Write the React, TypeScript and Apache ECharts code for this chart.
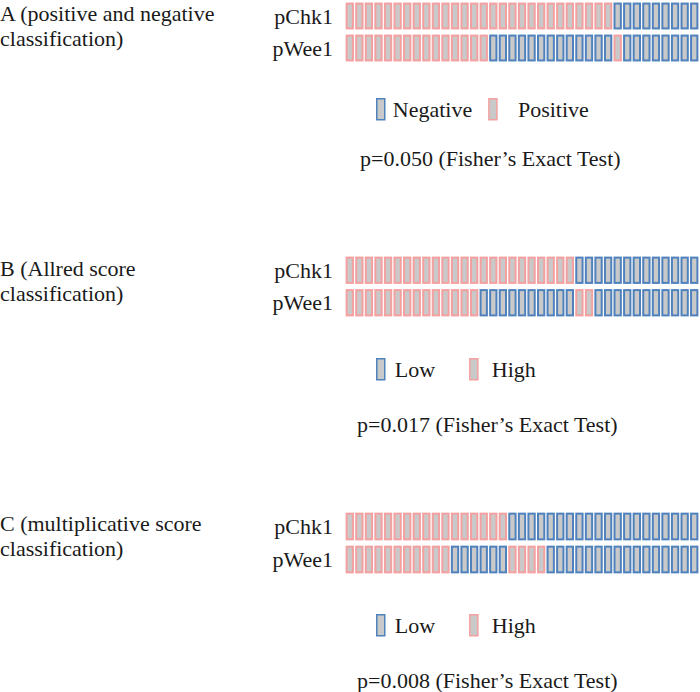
import React, { useEffect, useRef } from 'react';
import * as echarts from 'echarts';

// Sample (case) indices along each bar
const SAMPLES = ['1','2','3','4','5','6','7','8','9','10','11','12','13','14','15','16','17','18','19','20','21','22','23','24','25','26','27','28','29','30','31','32','33','34','35','36','37'];
const ROW_LABELS = ['pChk1', 'pWee1'];

// 1 = positive / high, 0 = negative / low (left to right)
const A_PCHK1 = '11111 11111 11111 11111 11111 111 00000 0000';
const A_PWEE1 = '11111 11111 11111 00000 00000 000 1 00000 000';
const B_PCHK1 = '11111 11111 11111 11111 1111 00000 00000 000';
const B_PWEE1 = '11111 11111 1111 00000 00000 11 00000 00000 0';
const C_PCHK1 = '11111 11111 11111 11 00000 00000 00000 00000';
const C_PWEE1 = '11111 11111 1 00000 0 1111 00000 00000 00000 0';

const SECTION_TITLES = [
  'A (positive and negative\nclassification)',
  'B (Allred score\nclassification)',
  'C (multiplicative score\nclassification)',
];
const P_TEXTS = [
  'p=0.050 (Fisher\u2019s Exact Test)',
  'p=0.017 (Fisher\u2019s Exact Test)',
  'p=0.008 (Fisher\u2019s Exact Test)',
];
const NEG_NAMES = ['Negative', 'Low', 'Low'];
const POS_NAMES = ['Positive', 'High', 'High'];

const PINK = '#f4a0a0';
const BLUE = '#4f81bd';
const GRAY = '#c9c9c9';
const FONT = '"Liberation Serif", "Times New Roman", serif';
const TXT = '#1a1a1a';

const parse = (s: string) => s.replace(/ /g, '').split('').map(Number);

export default function App() {
  const ref = useRef<HTMLDivElement>(null);
  useEffect(() => {
    document.body.style.margin = '0';
    if (!ref.current) return;
    const chart = echarts.init(ref.current, null, { renderer: 'svg' });

    const panels = [
      [parse(A_PCHK1), parse(A_PWEE1)],
      [parse(B_PCHK1), parse(B_PWEE1)],
      [parse(C_PCHK1), parse(C_PWEE1)],
    ];
    const gridTops = [0, 254, 510];
    const gridHeights = [64, 65, 66];
    const titleTops = [1, 256, 511];
    const pTops = [146, 412, 668];
    const legendTops = [98, 358, 614];

    const makeRender = (color: string) => (params: any, api: any) => {
      const c = api.coord([api.value(0), api.value(1)]);
      const s = api.size([1, 1]);
      const w = s[0] * 0.87;
      const h = s[1] * 0.84;
      const x = c[0] - w / 2;
      const y = c[1] - h / 2;
      return {
        type: 'group',
        children: [
          { type: 'rect', shape: { x, y, width: w, height: h }, style: { fill: color } },
          { type: 'rect', shape: { x: x + 2, y: y + 2, width: w - 4, height: h - 4 }, style: { fill: GRAY } },
        ],
      };
    };

    const series: any[] = [];
    panels.forEach((rows, p) => {
      const pos: number[][] = [];
      const neg: number[][] = [];
      rows.forEach((vals, r) => {
        vals.forEach((v, i) => {
          (v === 1 ? pos : neg).push([i, r]);
        });
      });
      series.push({
        type: 'custom', name: POS_NAMES[p], xAxisIndex: p, yAxisIndex: p,
        data: pos, renderItem: makeRender(PINK), itemStyle: { color: PINK },
      });
      series.push({
        type: 'custom', name: NEG_NAMES[p], xAxisIndex: p, yAxisIndex: p,
        data: neg, renderItem: makeRender(BLUE), itemStyle: { color: BLUE },
      });
    });

    const textStyle = { fontFamily: FONT, fontSize: 22, color: TXT, fontWeight: 'normal' as const };

    const legendCfg = [
      { left: 376, gap: 16, pad1: 3, pad2: 16 },
      { left: 376, gap: 34, pad1: 5, pad2: 9 },
      { left: 376, gap: 34, pad1: 5, pad2: 9 },
    ];

    chart.setOption({
      animation: false,
      title: [
        ...SECTION_TITLES.map((t, i) => ({
          text: t, left: 0, top: titleTops[i], padding: 0,
          textStyle: { ...textStyle, lineHeight: 25 },
        })),
        ...P_TEXTS.map((t, i) => ({
          text: t, left: i === 0 ? 360 : 357, top: pTops[i], padding: 0,
          textStyle: { ...textStyle, lineHeight: 25 },
        })),
      ],
      legend: legendCfg.map((lc, i) => ({
        left: lc.left, top: legendTops[i], padding: 0,
        orient: 'horizontal', selectedMode: false,
        itemWidth: 8, itemHeight: 21, itemGap: lc.gap,
        textStyle,
        data: [
          { name: NEG_NAMES[i], icon: 'rect', itemStyle: { color: GRAY, borderColor: BLUE, borderWidth: 1.5 }, textStyle: { ...textStyle, padding: [0, 0, 0, lc.pad1] } },
          { name: POS_NAMES[i], icon: 'rect', itemStyle: { color: GRAY, borderColor: PINK, borderWidth: 1.5 }, textStyle: { ...textStyle, padding: [0, 0, 0, lc.pad2] } },
        ],
      })),
      grid: gridTops.map((t, i) => ({ left: 345, width: 354, top: t, height: gridHeights[i] })),
      xAxis: gridTops.map((_, i) => ({
        type: 'category', gridIndex: i, data: SAMPLES,
        axisLine: { show: false }, axisTick: { show: false }, axisLabel: { show: false }, splitLine: { show: false },
      })),
      yAxis: gridTops.map((_, i) => ({
        type: 'category', gridIndex: i, data: ROW_LABELS, inverse: true,
        axisLine: { show: false }, axisTick: { show: false }, splitLine: { show: false },
        axisLabel: { ...textStyle, margin: 12 },
      })),
      series,
    });
    return () => chart.dispose();
  }, []);
  return <div ref={ref} style={{ width: 700, height: 692 }} />;
}
